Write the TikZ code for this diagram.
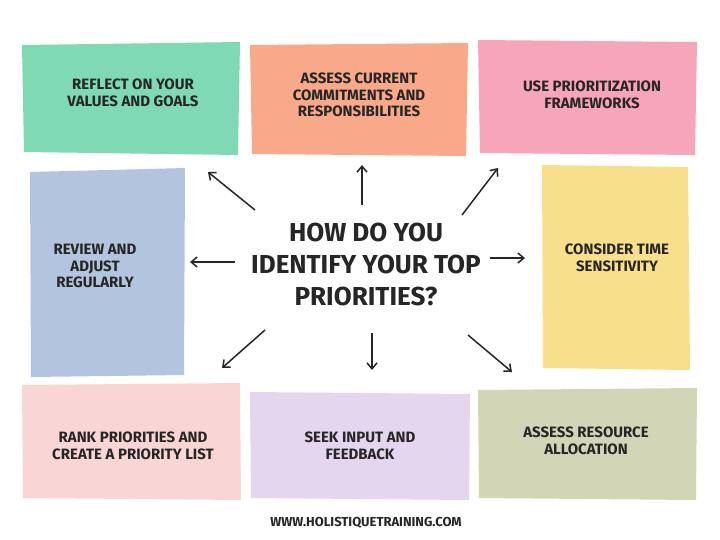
\documentclass[tikz,border=0pt]{standalone}
\usepackage{fontspec}
\setmainfont{Fira Sans}
\usetikzlibrary{arrows.meta}
\begin{document}
\begin{tikzpicture}[x=1pt,y=-1pt,
  box/.style={draw=none,inner sep=0pt},
  lbl/.style={font=\bfseries\fontsize{15}{16.5}\selectfont,align=center,text=black!85},
  arr/.style={line width=1.5pt,-{Straight Barb[length=6pt,width=10pt]},black!85}]
\useasboundingbox (0,0) rectangle (720,539);
\fill[white] (0,0) rectangle (720,539);
\fill[fill={rgb,255:red,127;green,217;blue,181}] (22,45) -- (240,42) -- (238,155) -- (24,152) -- cycle;
\fill[fill={rgb,255:red,249;green,169;blue,138}] (250,45) -- (468,43) -- (466,156) -- (252,154) -- cycle;
\fill[fill={rgb,255:red,247;green,165;blue,187}] (478,40) -- (697,42) -- (695,155) -- (480,153) -- cycle;
\fill[fill={rgb,255:red,179;green,197;blue,222}] (30,172) -- (185,168) -- (184,375) -- (31,377) -- cycle;
\fill[fill={rgb,255:red,248;green,223;blue,140}] (542,165) -- (688,167) -- (690,370) -- (543,368) -- cycle;
\fill[fill={rgb,255:red,249;green,213;blue,213}] (22,385) -- (240,383) -- (241,500) -- (23,498) -- cycle;
\fill[fill={rgb,255:red,227;green,214;blue,238}] (250,392) -- (470,394) -- (469,500) -- (251,498) -- cycle;
\fill[fill={rgb,255:red,211;green,214;blue,182}] (478,390) -- (697,388) -- (696,500) -- (479,498) -- cycle;
\node[lbl] (n1) at (133,93) {REFLECT ON YOUR\\VALUES AND GOALS};
\node[lbl] (n2) at (359,95) {ASSESS CURRENT\\COMMITMENTS AND\\RESPONSIBILITIES};
\node[lbl] (n3) at (592,95) {USE PRIORITIZATION\\FRAMEWORKS};
\node[lbl] (n4) at (95,266) {REVIEW AND\\ADJUST\\REGULARLY};
\node[lbl] (n5) at (617,258) {CONSIDER TIME\\SENSITIVITY};
\node[lbl] (n6) at (133,446) {RANK PRIORITIES AND\\CREATE A PRIORITY LIST};
\node[lbl] (n7) at (360,446) {SEEK INPUT AND\\FEEDBACK};
\node[lbl] (n8) at (586,441) {ASSESS RESOURCE\\ALLOCATION};
\node[font=\bfseries\fontsize{26}{32}\selectfont,align=center,text=black!85] (c) at (366,264) {HOW DO YOU\\IDENTIFY YOUR TOP\\PRIORITIES?};
\node[font=\bfseries\fontsize{13}{15}\selectfont,text=black!85] (web) at (366,523) {WWW.HOLISTIQUETRAINING.COM};
\coordinate (s1) at (255,210); \coordinate (e1) at (208,172);
\coordinate (s2) at (362,205); \coordinate (e2) at (362,165);
\coordinate (s3) at (462,215); \coordinate (e3) at (498,168);
\coordinate (s4) at (235,262); \coordinate (e4) at (190,262);
\coordinate (s5) at (490,258); \coordinate (e5) at (525,258);
\coordinate (s6) at (265,330); \coordinate (e6) at (222,368);
\coordinate (s7) at (372,333); \coordinate (e7) at (372,370);
\coordinate (s8) at (468,335); \coordinate (e8) at (512,372);
\foreach \i in {1,...,8} {\draw[arr] (s\i) -- (e\i);}
\end{tikzpicture}
\end{document}
